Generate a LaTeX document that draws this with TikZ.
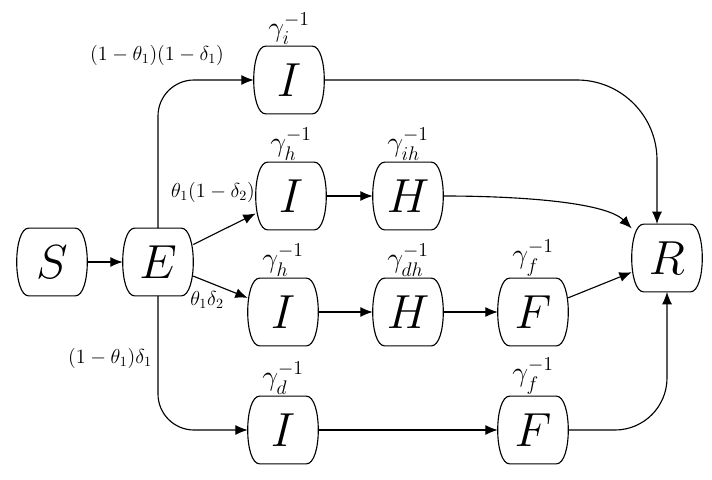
\documentclass[tikz,border=0pt]{standalone}
\usepackage{fix-cm}
\usepackage{amsmath}
\usetikzlibrary{positioning, arrows.meta}

% outline of a compartment: flat top and bottom, bulging sides
\newcommand{\compbox}[1]{%
  \draw[thick] ([xshift=3mm]#1.north west) -- ([xshift=-3mm]#1.north east)
    .. controls ([xshift=1mm]#1.north east) and ([xshift=1mm]#1.south east) ..
    ([xshift=-3mm]#1.south east) -- ([xshift=3mm]#1.south west)
    .. controls ([xshift=-1mm]#1.south west) and ([xshift=-1mm]#1.north west) ..
    cycle;}

\begin{document}
\begin{tikzpicture}[
            x=0.025cm, y=-0.025cm,
            >={Latex[length=3.1mm, width=2.5mm]},
            compartment/.style={rectangle, minimum width=1.75cm, minimum height=1.68cm,
                inner sep=0pt, font=\fontsize{34}{38}\selectfont},
            rate/.style={font=\fontsize{20}{22}\selectfont, inner sep=0pt},
            prob/.style={font=\fontsize{14.4}{16}\selectfont, inner sep=1pt},
            flow/.style={->, thick}
        ]
        \useasboundingbox (0,0) rectangle (712,480);

        % ======================================
        % Compartments
        % ======================================
        \node[compartment] (S) at (52,262) {$S$};
        \node[compartment] (E) at (158,262) {$E$};
        \node[compartment] (R) at (667,258) {$R$};

        % row 1
        \node[compartment, label={[rate, label distance=1pt]above:$\gamma_i^{-1}$}] (I1) at (289,80) {$I$};

        % row 2
        \node[compartment, label={[rate, label distance=1pt]above:$\gamma_h^{-1}$}] (I2) at (291,196) {$I$};
        \node[compartment, label={[rate, label distance=1pt]above:$\gamma_{ih}^{-1}$}] (H2) at (408,196) {$H$};

        % row 3
        \node[compartment, label={[rate, label distance=1pt]above:$\gamma_h^{-1}$}] (I3) at (283,312) {$I$};
        \node[compartment, label={[rate, label distance=1pt]above:$\gamma_{dh}^{-1}$}] (H3) at (408,312) {$H$};
        \node[compartment, label={[rate, label distance=1pt]above:$\gamma_f^{-1}$}] (F3) at (533,312) {$F$};

        % row 4
        \node[compartment, label={[rate, label distance=1pt]above:$\gamma_d^{-1}$}] (I4) at (283,430) {$I$};
        \node[compartment, label={[rate, label distance=1pt]above:$\gamma_f^{-1}$}] (F4) at (533,430) {$F$};

        \foreach \n in {S,E,R,I1,I2,H2,I3,H3,F3,I4,F4}
        {\compbox{\n}}

        % ======================================
        % Branch probabilities
        % ======================================
        \node[prob] (p1) at (157,55) {$(1-\theta_1)(1-\delta_1)$};
        \node[prob] (p2) at (213,192) {$\theta_1(1-\delta_2)$};
        \node[prob] (p3) at (207,300) {$\theta_1\delta_2$};
        \node[prob] (p4) at (110,358) {$(1-\theta_1)\delta_1$};

        % ======================================
        % Flows
        % ======================================
        \draw[flow] (S) -- (E);

        \draw[flow, rounded corners=0.9cm] (E.north) |- (I1.west);
        \draw[flow] (E) -- (I2);
        \draw[flow] (E) -- (I3);
        \draw[flow, rounded corners=0.9cm] (E.south) |- (I4.west);

        \draw[flow] (I2) -- (H2);
        \draw[flow] (I3) -- (H3);
        \draw[flow] (H3) -- (F3);
        \draw[flow] (I4) -- (F4);

        % into R
        \draw[flow, rounded corners=2cm] (I1.east) -| ([xshift=-2.5mm]R.north);
        \draw[flow] (H2.east) to[out=0, in=135, in looseness=0.5] (R.140);
        \draw[flow] (F3) -- (R);
        \draw[flow, rounded corners=1.3cm] (F4.east) -| (R.south);

    \end{tikzpicture}
\end{document}
